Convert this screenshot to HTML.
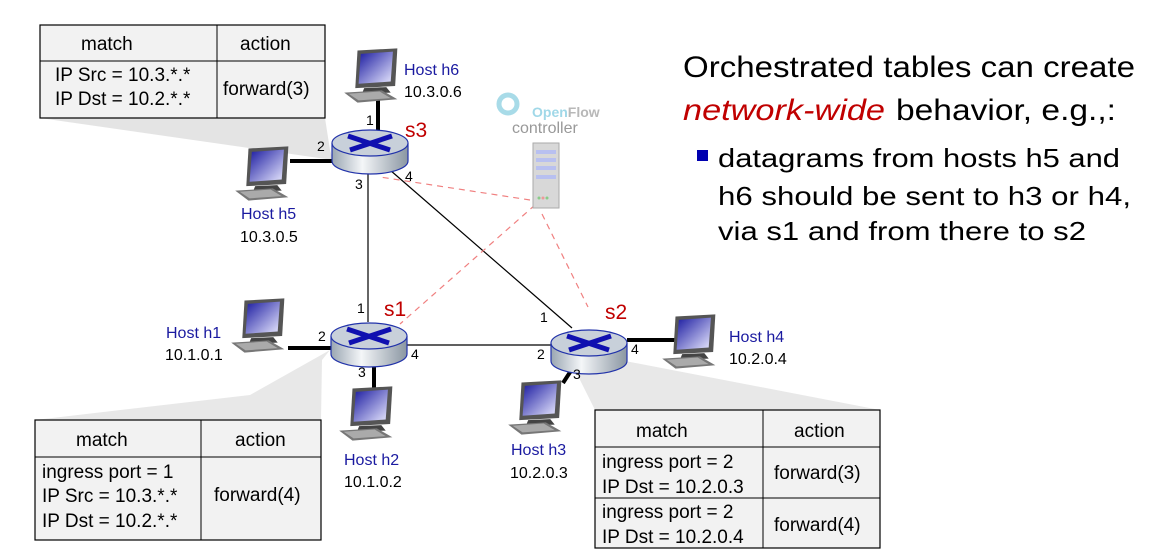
<!DOCTYPE html>
<html><head><meta charset="utf-8"><style>
html,body{margin:0;padding:0;background:#fff;}
svg{display:block;font-family:"Liberation Sans",Arial,sans-serif;}
</style></head><body>
<svg width="1154" height="558" viewBox="0 0 1154 558" xmlns="http://www.w3.org/2000/svg">
<defs>
<linearGradient id="sh" x1="0" y1="0" x2="0" y2="1"><stop offset="0" stop-color="#fff" stop-opacity="0"/><stop offset="1" stop-color="#bdbdbd"/></linearGradient>
<linearGradient id="scr" x1="0" y1="0" x2="1" y2="1"><stop offset="0" stop-color="#1a1aa0"/><stop offset="1" stop-color="#e8e8ff"/></linearGradient>
<linearGradient id="rt" x1="0" y1="0" x2="1" y2="0"><stop offset="0" stop-color="#9aa6b2"/><stop offset="0.4" stop-color="#f4f6f8"/><stop offset="1" stop-color="#8a96a2"/></linearGradient>
<symbol id="pc" viewBox="0 0 56 50">
<polygon points="14,2 50,0 48,34 12,36" fill="#555"/>
<polygon points="17,5 46,3 44,30 15,32" fill="url(#scr)"/>
<polygon points="20,36 40,35 44,40 18,41" fill="#444"/>
<polygon points="2,40 36,38 50,46 14,49" fill="#777"/>
<polygon points="6,41 34,39 44,45 15,47" fill="#aaa"/>
</symbol>
<g id="router">
<path d="M-38,-2 v18 a38,13 0 0 0 76,0 v-18" fill="url(#rt)" stroke="#2233aa" stroke-width="1.2"/>
<ellipse cx="0" cy="-2" rx="38" ry="13" fill="#c8d0da" stroke="#2233aa" stroke-width="1.2"/>
<g stroke="#1010b0" stroke-width="5">
<line x1="-22" y1="-9" x2="20" y2="5"/><line x1="22" y1="-9" x2="-20" y2="5"/>
</g>
</g>
</defs>

<!-- callout shadows -->
<polygon points="40,118 325,118 330,150 333,160" fill="#d8d8d8" opacity="0.7"/>
<polygon points="35,420 321,420 322,360 330,350 250,395" fill="#d8d8d8" opacity="0.6"/>
<polygon points="595,410 880,410 620,360 575,370" fill="#d8d8d8" opacity="0.6"/>

<!-- links -->
<g stroke="#000" stroke-width="1.2">
<line x1="368" y1="172" x2="368" y2="322"/>
<line x1="390" y1="170" x2="572" y2="328"/>
<line x1="407" y1="345" x2="551" y2="345"/>
</g>
<g stroke="#000" stroke-width="4">
<line x1="378" y1="100" x2="378" y2="132"/>
<line x1="290" y1="161" x2="333" y2="161"/>
<line x1="288" y1="348" x2="331" y2="348"/>
<line x1="374" y1="360" x2="374" y2="388"/>
<line x1="576" y1="363" x2="563" y2="383"/>
<line x1="627" y1="340" x2="682" y2="340"/>
</g>
<g stroke="#f08080" stroke-width="1.2" stroke-dasharray="6,5" fill="none">
<line x1="530" y1="200" x2="380" y2="177"/>
<line x1="535" y1="205" x2="400" y2="324"/>
<line x1="542" y1="214" x2="588" y2="307"/>
</g>

<!-- routers -->
<use href="#router" x="370" y="145"/>
<use href="#router" x="369" y="338"/>
<use href="#router" x="589" y="345"/>

<!-- hosts -->
<use href="#pc" x="342" y="48" width="62" height="56"/>
<use href="#pc" x="233" y="146" width="62" height="56"/>
<use href="#pc" x="229" y="298" width="62" height="56"/>
<use href="#pc" x="337" y="386" width="62" height="56"/>
<use href="#pc" x="506" y="380" width="62" height="56"/>
<use href="#pc" x="660" y="314" width="62" height="56"/>

<!-- server -->
<rect x="533" y="143" width="26" height="65" fill="#d8d8d8" stroke="#aaa"/>
<rect x="536" y="150" width="20" height="4" fill="#b8c0f0"/>
<rect x="536" y="158" width="20" height="4" fill="#b8c0f0"/>
<rect x="536" y="166" width="20" height="4" fill="#b8c0f0"/>
<rect x="536" y="175" width="20" height="4" fill="#b8c0f0"/>
<circle cx="539" cy="198" r="1.5" fill="#8c8"/><circle cx="543" cy="198" r="1.5" fill="#e99"/><circle cx="547" cy="198" r="1.5" fill="#8c8"/>
<circle cx="508" cy="104" r="9" fill="none" stroke="#a8dbe8" stroke-width="5"/>
<text x="532" y="117" font-size="14" font-weight="bold" fill="#a0d8e8">Open<tspan fill="#b8b8b8">Flow</tspan></text>
<text x="512" y="133" font-size="16" fill="#999">controller</text>

<!-- labels -->
<g font-size="16" fill="#1a1aa0">
<text x="404" y="75">Host h6</text>
<text x="241" y="219">Host h5</text>
<text x="166" y="338">Host h1</text>
<text x="344" y="465">Host h2</text>
<text x="511" y="455">Host h3</text>
<text x="729" y="342">Host h4</text>
</g>
<g font-size="16" fill="#000">
<text x="404" y="97">10.3.0.6</text>
<text x="240" y="242">10.3.0.5</text>
<text x="165" y="360">10.1.0.1</text>
<text x="344" y="487">10.1.0.2</text>
<text x="510" y="478">10.2.0.3</text>
<text x="729" y="364">10.2.0.4</text>
</g>
<g font-size="21" fill="#c00000">
<text x="405" y="137">s3</text>
<text x="384" y="316">s1</text>
<text x="605" y="319">s2</text>
</g>
<g font-size="14" fill="#000">
<text x="366" y="125">1</text><text x="317" y="151">2</text><text x="355" y="189">3</text><text x="405" y="181">4</text>
<text x="357" y="313">1</text><text x="318" y="341">2</text><text x="358" y="377">3</text><text x="411" y="359">4</text>
<text x="540" y="322">1</text><text x="537" y="359">2</text><text x="573" y="379">3</text><text x="631" y="354">4</text>
</g>

<!-- table 1 -->
<g font-size="19" fill="#000" stroke="none">
<rect x="40" y="25" width="285" height="93" fill="#f2f2f2" stroke="#000" stroke-width="1.2"/>
<line x1="40" y1="61" x2="325" y2="61" stroke="#000"/>
<line x1="217" y1="25" x2="217" y2="118" stroke="#000"/>
<text x="81" y="50">match</text><text x="240" y="50">action</text>
<text x="55" y="81">IP Src = 10.3.*.*</text>
<text x="55" y="105">IP Dst = 10.2.*.*</text>
<text x="223" y="95">forward(3)</text>

<!-- table 2 -->
<rect x="35" y="420" width="286" height="120" fill="#f2f2f2" stroke="#000" stroke-width="1.2"/>
<line x1="35" y1="457" x2="321" y2="457" stroke="#000"/>
<line x1="201" y1="420" x2="201" y2="540" stroke="#000"/>
<text x="76" y="446">match</text><text x="235" y="446">action</text>
<text x="42" y="478">ingress port = 1</text>
<text x="42" y="502">IP Src = 10.3.*.*</text>
<text x="42" y="527">IP Dst = 10.2.*.*</text>
<text x="214" y="501">forward(4)</text>

<!-- table 3 -->
<rect x="595" y="410" width="285" height="138" fill="#f2f2f2" stroke="#000" stroke-width="1.2"/>
<line x1="595" y1="447" x2="880" y2="447" stroke="#000"/>
<line x1="595" y1="498" x2="880" y2="498" stroke="#000"/>
<line x1="763" y1="410" x2="763" y2="548" stroke="#000"/>
<text x="636" y="437">match</text><text x="794" y="437">action</text>
<text x="602" y="468">ingress port = 2</text>
<text x="602" y="493">IP Dst = 10.2.0.3</text>
<text x="602" y="518">ingress port = 2</text>
<text x="602" y="543">IP Dst = 10.2.0.4</text>
<text x="774" y="479">forward(3)</text>
<text x="774" y="531">forward(4)</text>
</g>

<!-- right text -->
<g font-size="30" fill="#000">
<text x="683" y="77" textLength="452" lengthAdjust="spacingAndGlyphs">Orchestrated tables can create</text>
<text x="683" y="120" fill="#c00000" font-style="italic" textLength="202" lengthAdjust="spacingAndGlyphs">network-wide</text>
<text x="896" y="120" textLength="220" lengthAdjust="spacingAndGlyphs">behavior, e.g.,:</text>
</g>
<rect x="697" y="150" width="11" height="11" fill="#0000b0"/>
<g font-size="26" fill="#000">
<text x="718" y="167" textLength="402" lengthAdjust="spacingAndGlyphs">datagrams from hosts h5 and</text>
<text x="718" y="205" textLength="413" lengthAdjust="spacingAndGlyphs">h6 should be sent to h3 or h4,</text>
<text x="718" y="240" textLength="368" lengthAdjust="spacingAndGlyphs">via s1 and from there to s2</text>
</g>
</svg>
</body></html>
